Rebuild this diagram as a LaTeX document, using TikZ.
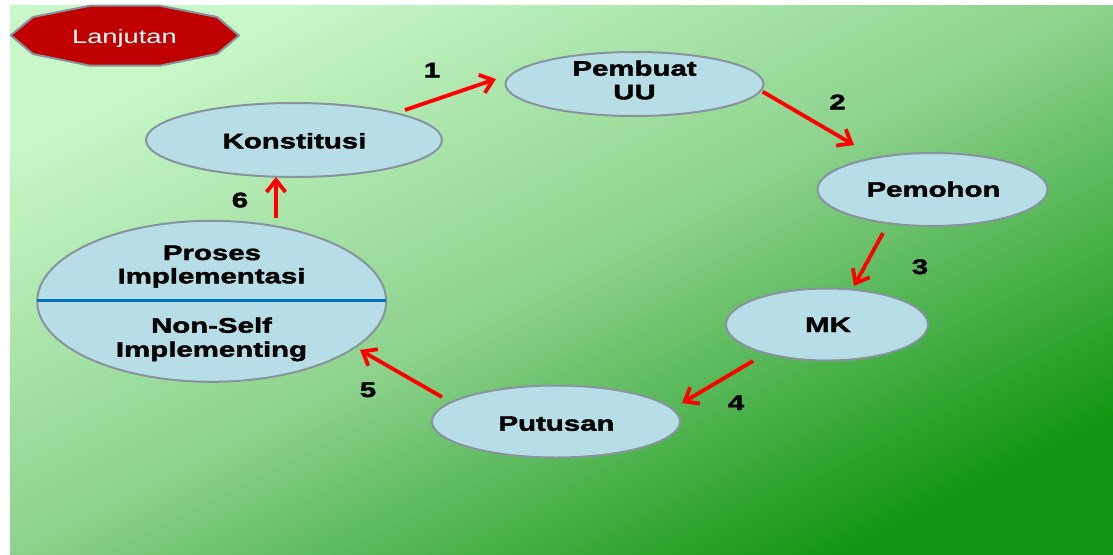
\documentclass[tikz,border=0pt]{standalone}
\usepackage{fontspec}
\setmainfont{Liberation Sans}[FakeStretch=1.4, BoldFeatures={FakeBold=2}]
\usetikzlibrary{arrows.meta,calc,shapes.geometric}
\definecolor{bglt}{RGB}{200,247,200}
\definecolor{bgmd}{RGB}{140,210,140}
\definecolor{bgdk}{RGB}{20,150,20}
\pgfdeclareverticalshading{bggrad}{100bp}{color(0bp)=(bgdk); color(25bp)=(bgdk); color(50bp)=(bgmd); color(75bp)=(bglt); color(100bp)=(bglt)}
\definecolor{elfill}{RGB}{183,222,230}
\definecolor{eldraw}{RGB}{135,148,158}
\definecolor{octred}{RGB}{192,0,0}
\definecolor{splitblue}{RGB}{0,112,192}
\tikzset{
  oval/.style={ellipse, draw=eldraw, line width=2pt, fill=elfill, inner sep=0pt},
  lbl/.style={anchor=base, inner sep=0pt, font=\fontsize{21}{24}\selectfont\bfseries},
  numlbl/.style={lbl},
  arr/.style={draw=red, line width=3.8pt, -{Straight Barb[length=12pt,width=19pt]}},
  octo/.style={fill=octred, draw=eldraw, line width=2pt, line join=round},
}
\begin{document}
\begin{tikzpicture}[x=1pt,y=-1pt]
\useasboundingbox (0,0) rectangle (1113,554);
\shade[shading=bggrad, shading angle=26.5] (10,5) rectangle (1113,554);
% Lanjutan octagon
\draw[octo] (10.7,35.3) -- (33,17) -- (90,5.7) -- (160,5.7) -- (217,17) -- (239,35.5) -- (217,54) -- (160,65.7) -- (90,65.7) -- (33,54) -- cycle;
\node[anchor=base, inner sep=0pt, font=\fontsize{19.5}{22}\selectfont, text=white] (lanj) at (124.5,43.3) {Lanjutan};
% ellipses
\node[oval, minimum width=296pt, minimum height=74pt] (konst) at (294,140) {};
\node[oval, minimum width=258pt, minimum height=64pt] (pemb) at (634.5,84) {};
\node[oval, minimum width=230pt, minimum height=73pt] (pemoh) at (932.5,189.5) {};
\node[oval, minimum width=202pt, minimum height=72pt] (mk) at (827,324.5) {};
\node[oval, minimum width=248pt, minimum height=72pt] (put) at (556,421.5) {};
\node[oval, minimum width=349pt, minimum height=161pt] (proc) at (211.7,301.3) {};
\draw[splitblue, line width=2.5pt] ($(proc.west)+(1,-1)$) -- ($(proc.east)+(-1,-1)$);
% texts
\node[lbl] (tkonst) at (294.5,148.3) {Konstitusi};
\node[lbl] (tpemb1) at (634.5,75.7) {Pembuat};
\node[lbl] (tpemb2) at (634.5,99.3) {UU};
\node[lbl] (tpemoh) at (933.5,196.7) {Pemohon};
\node[lbl] (tmk) at (828,332) {MK};
\node[lbl] (tput) at (556.5,430.7) {Putusan};
\node[lbl] (tproc1) at (212,260) {Proses};
\node[lbl] (tproc2) at (211.5,283.3) {Implementasi};
\node[lbl] (tproc3) at (211.5,332.7) {Non-Self};
\node[lbl] (tproc4) at (211.5,356.7) {Implementing};
% numbers
\node[numlbl] (n1) at (432,77.3) {1};
\node[numlbl] (n2) at (837.5,109.3) {2};
\node[numlbl] (n3) at (920,274) {3};
\node[numlbl] (n4) at (736,410) {4};
\node[numlbl] (n5) at (368,397) {5};
\node[numlbl] (n6) at (240,207.3) {6};
% arrows
\draw[arr] ($(konst)+(111,-30)$) -- ($(pemb)+(-138.5,-5)$);
\draw[arr] ($(pemb)+(128.2,7.7)$) -- ($(pemoh)+(-78.5,-44.5)$);
\draw[arr] ($(pemoh)+(-49.5,43.5)$) -- ($(mk)+(27,-38.5)$);
\draw[arr] ($(mk)+(-74,36.5)$) -- ($(put)+(126,-18.5)$);
\draw[arr] ($(put)+(-114,-24.5)$) -- ($(proc)+(148.3,48.7)$);
\draw[arr] ($(proc)+(64.3,-83.3)$) -- ($(konst)+(-18,37)$);
\end{tikzpicture}
\end{document}
